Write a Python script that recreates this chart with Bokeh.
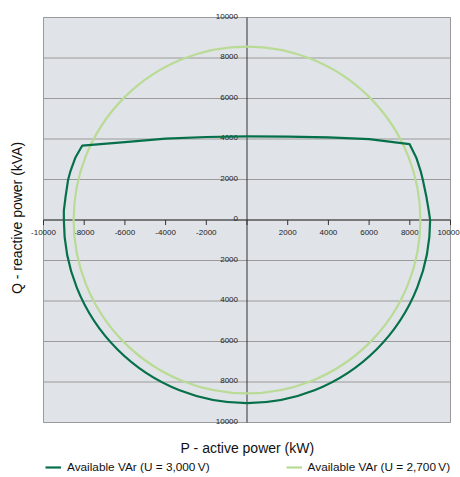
import numpy as np
from bokeh.plotting import figure
from bokeh.models import Range1d, Legend, LegendItem, Label, ColumnDataSource
from bokeh.core.properties import value
from bokeh.embed import file_html
from bokeh.resources import INLINE

# ---------------- data ----------------
x_ticks = [-10000, -8000, -6000, -4000, -2000, 0, 2000, 4000, 6000, 8000, 10000]
x_tick_labels = ["-10000", "-8000", "-6000", "-4000", "-2000", "",
                 "2000", "4000", "6000", "8000", "10000"]
y_ticks = [-10000, -8000, -6000, -4000, -2000, 0, 2000, 4000, 6000, 8000, 10000]
y_tick_labels = ["10000", "8000", "6000", "4000", "2000", "0",
                 "2000", "4000", "6000", "8000", "10000"]

# U = 3,000 V : lower half is a circle (radius in kVA, angles in degrees)
lower_3000_radius = [9000]
lower_3000_start_deg = [180]
lower_3000_end_deg = [0]
# U = 3,000 V : upper part
upper_3000_p = [-9000, -9000, -8920, -8790, -8670, -8430, -8100,
                -6000, -4000, -2000, 0, 2000, 4000, 6000, 7985,
                8315, 8530, 8640, 8820, 8930, 9000]
upper_3000_q = [0, 460, 1120, 1990, 2430, 3090, 3670,
                3850, 4020, 4100, 4130, 4120, 4080, 3990, 3750,
                3090, 2430, 1990, 1120, 460, 0]

# U = 2,700 V : full circle
circle_2700_radius = [8520]

series_labels = ["Available VAr (U = 3,000\u2009V)", "Available VAr (U = 2,700\u2009V)"]

# axis limits of the plotting area
AX_LO, AX_HI = -10000, 10000

DARK = "#06704a"
LIGHT = "#b9db95"
BG = "#e0e3e7"
GRID = "#9a9a9a"
AXIS = "#333333"
FONT = "Liberation Sans"

W, H = 460, 477
# plotting area inside the canvas (pixels): left 43, right 10, top 17, bottom 55
ux = (AX_HI - AX_LO) / (W - 43 - 10)
uy = (AX_HI - AX_LO) / (H - 17 - 55)

p = figure(width=W, height=H, output_backend="svg", toolbar_location=None,
           x_range=Range1d(AX_LO - 43 * ux, AX_HI + 10 * ux),
           y_range=Range1d(AX_LO - 55 * uy, AX_HI + 17 * uy),
           x_axis_location=None, y_axis_location=None,
           min_border=0, min_border_left=0, min_border_right=0,
           min_border_top=0, min_border_bottom=0)
p.background_fill_color = "white"
p.border_fill_color = "white"
p.outline_line_color = None
p.grid.visible = False

# plotting area background and frame
p.quad(left=[AX_LO], right=[AX_HI], bottom=[AX_LO], top=[AX_HI],
       fill_color=BG, line_color=GRID, line_width=1, level="underlay")
# horizontal grid lines
p.segment(x0=AX_LO, x1=AX_HI, y0=y_ticks, y1=y_ticks,
          line_color=GRID, line_width=1, level="underlay")

# axis lines through the origin
p.segment(x0=[AX_LO, 0], y0=[0, AX_LO], x1=[AX_HI, 0], y1=[0, AX_HI],
          line_color=AXIS, line_width=1)

# x ticks (pointing down) and labels
xsrc = ColumnDataSource(dict(x=x_ticks, y=[0] * len(x_ticks), t=x_tick_labels))
p.ray(x="x", y="y", source=xsrc, length=5, length_units="screen",
      angle=-np.pi / 2, line_color=AXIS, line_width=1)
xsrc_in = ColumnDataSource(dict(x=x_ticks[:-1], y=[0] * (len(x_ticks) - 1),
                                t=x_tick_labels[:-1]))
p.text(x="x", y="y", text="t", source=xsrc_in, text_align="center",
       text_baseline="top", y_offset=9.5,
       text_font=value(FONT), text_font_size="8px", text_color="#222222")
# last label nudged so it stays inside the window
xsrc_end = ColumnDataSource(dict(x=x_ticks[-1:], y=[0], t=x_tick_labels[-1:]))
p.text(x="x", y="y", text="t", source=xsrc_end, text_align="center",
       text_baseline="top", y_offset=9.5, x_offset=-2,
       text_font=value(FONT), text_font_size="8px", text_color="#222222")

# y tick labels (left of the vertical axis, above each grid line)
ysrc = ColumnDataSource(dict(x=[0] * len(y_ticks), y=y_ticks, t=y_tick_labels))
p.text(x="x", y="y", text="t", source=ysrc, text_align="right",
       text_baseline="alphabetic", x_offset=-9, y_offset=-1.5,
       text_font=value(FONT), text_font_size="8px", text_color="#222222")

# curves
r_light = p.arc(x=[0], y=[0], radius=circle_2700_radius, start_angle=[0],
                end_angle=[2 * np.pi], line_color=LIGHT, line_width=2.2)
p.arc(x=[0], y=[0], radius=lower_3000_radius,
      start_angle=np.radians(lower_3000_start_deg), end_angle=np.radians(lower_3000_end_deg),
      direction="anticlock", line_color=DARK, line_width=2.2)
r_dark = p.line(upper_3000_p, upper_3000_q, line_color=DARK, line_width=2.2,
                line_join="round")

# axis titles
p.add_layout(Label(text="Q - reactive power (kVA)", x=16.5, y=H - 217.5,
                   x_units="screen", y_units="screen", angle=np.pi / 2,
                   text_align="center", text_baseline="middle", text_font=FONT,
                   text_font_size="14px", text_color="#111111"))
p.add_layout(Label(text="P - active power (kW)", x=247, y=H - 447.5,
                   x_units="screen", y_units="screen",
                   text_align="center", text_baseline="middle", text_font=FONT,
                   text_font_size="14px", text_color="#111111"))

legend = Legend(items=[LegendItem(label=series_labels[0], renderers=[r_dark]),
                       LegendItem(label=series_labels[1], renderers=[r_light])],
                orientation="horizontal", location=(45, 3), margin=0, padding=0,
                spacing=76, glyph_width=16, glyph_height=12, label_standoff=6,
                label_text_font=FONT, label_text_font_size="11.8px",
                label_text_color="#111111", border_line_color=None,
                background_fill_alpha=0)
p.add_layout(legend)

open("out.html", "w").write(file_html(p, INLINE))
